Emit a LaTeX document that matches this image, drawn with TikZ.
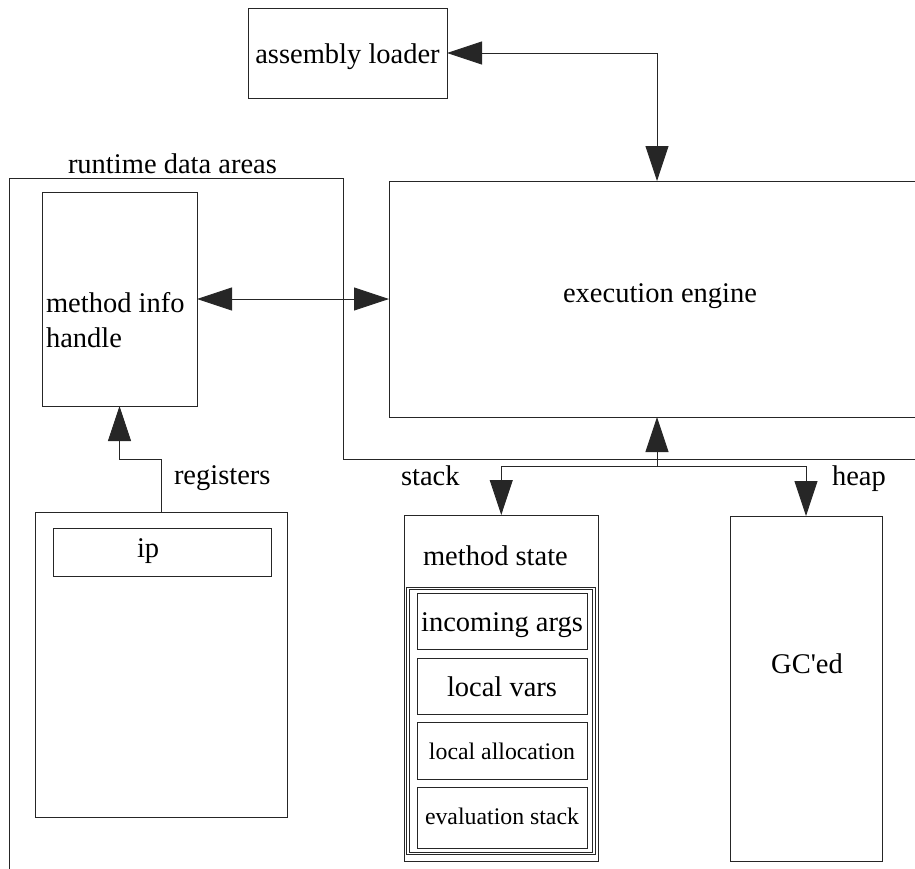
\documentclass[tikz,border=0pt]{standalone}
\usepackage{fontspec}
\setmainfont{Liberation Serif}
\usetikzlibrary{arrows.meta}
\begin{document}
\begin{tikzpicture}[x=1pt,y=-1pt,
  line width=0.9pt,
  color=black!85,
  box/.style={draw=black!85, line width=0.9pt, inner sep=0pt, outer sep=0pt,
    anchor=north west},
  txt/.style={inner sep=0pt, outer sep=0pt, text=black,
    font=\fontsize{28.5}{35}\selectfont},
  small/.style={txt, font=\fontsize{23.8}{29}\selectfont},
  >={Triangle[length=35pt,width=23pt]}]

% page frame; parts of the outline and the engine box run past it
\clip (0,0) rectangle (915,868);

% runtime data area outline
\draw (9,880) -- (9,178) -- (343,178) -- (343,459) -- (930,459);
\node[txt, anchor=base west] (rdalbl) at (68,173) {runtime data areas};

% assembly loader
\node[box, minimum width=199pt, minimum height=90pt] (loader) at (248,8) {};
\node[txt, anchor=base] (loaderlbl) at (347.5,63) {assembly loader};

% execution engine (continues past the right edge)
\node[box, minimum width=536pt, minimum height=236pt] (engine) at (389,181) {};
\node[txt, anchor=base] (enginelbl) at (660,302) {execution engine};

% method info handle
\node[box, minimum width=155pt, minimum height=214pt] (minfo) at (42,192) {};
\node[txt, anchor=base west] (minfolbla) at (46,312) {method info};
\node[txt, anchor=base west] (minfolblb) at (46,347) {handle};

% registers
\node[box, minimum width=252pt, minimum height=305pt] (regs) at (35,512) {};
\node[txt, anchor=base west] (regslbl) at (174,484) {registers};
\node[box, minimum width=218pt, minimum height=48pt] (ip) at (53,528) {};
\node[txt, anchor=base west] (iplbl) at (137,557) {ip};

% stack: method state
\node[txt, anchor=base west] (stacklbl) at (401,485) {stack};
\node[box, minimum width=194.5pt, minimum height=346pt] (mstate) at (404,515) {};
\node[txt, anchor=base west] (mstatelbl) at (423,565) {method state};
\node[box, double, double distance=1.6pt, minimum width=186pt, minimum height=265pt]
  (frame) at (408,588.5) {};
\node[box, minimum width=170pt, minimum height=56pt] (args) at (417,593) {};
\node[txt, anchor=base] (argslbl) at (502,631) {incoming args};
\node[box, minimum width=170pt, minimum height=56pt] (lvars) at (417,658) {};
\node[txt, anchor=base] (lvarslbl) at (502,696) {local vars};
\node[box, minimum width=170pt, minimum height=57pt] (lalloc) at (417,722) {};
\node[small, anchor=base] (lalloclbl) at (502,759) {local allocation};
\node[box, minimum width=170pt, minimum height=61pt] (estack) at (417,787) {};
\node[small, anchor=base] (estacklbl) at (502,824) {evaluation stack};

% heap
\node[txt, anchor=base west] (heaplbl) at (832,485) {heap};
\node[box, minimum width=152pt, minimum height=345pt] (heap) at (730,516) {};
\node[txt, anchor=base] (heaptxt) at (807,673) {GC\textquotesingle ed};

% connectors
\draw[<->] (loader.east) -| (engine.north);
\draw[<->] (minfo.east) -- (engine.west);
\draw[->] (regs.north) -- ++(0,-53) -| (minfo.south);
\coordinate (split) at (657,466);
\draw[->] (split) -- (engine.south);
\draw[->] (split) -| (mstate.north);
\draw[->] (split) -| (heap.north);
\end{tikzpicture}
\end{document}
